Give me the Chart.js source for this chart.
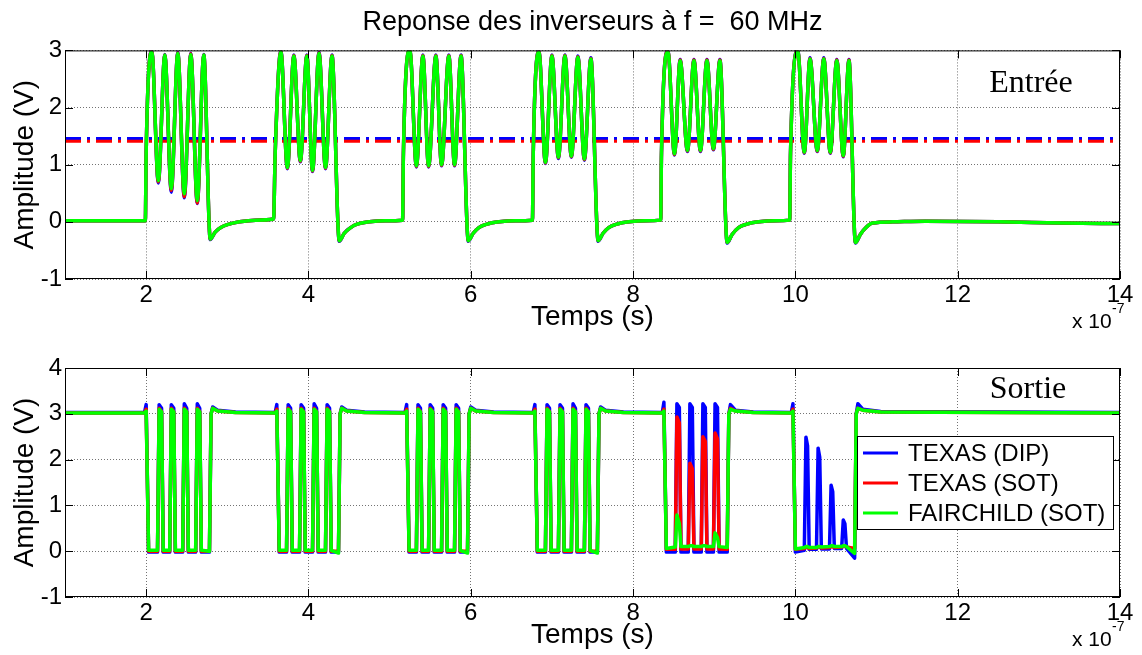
<!DOCTYPE html>
<html>
<head>
<meta charset="utf-8">
<script src="https://cdn.jsdelivr.net/npm/chart.js@4.4.0/dist/chart.umd.min.js"></script>
<style>
  html, body { margin: 0; padding: 0; background: #fff; }
  #wrap { position: relative; width: 1142px; height: 655px; }
  .panel { position: absolute; left: 0; width: 1142px; }
  #top { top: 0; height: 335px; }
  #bottom { top: 335px; height: 320px; }
</style>
</head>
<body>
<div id="wrap">
  <div class="panel" id="top"><canvas id="inputChart" width="1142" height="335"></canvas></div>
  <div class="panel" id="bottom"><canvas id="outputChart" width="1142" height="320"></canvas></div>
</div>
<script>
// time is in units of 1e-7 s (axis shows "x 10^-7")
const timeTicks = [2, 4, 6, 8, 10, 12, 14];
const inputTicks = [-1, 0, 1, 2, 3];
const outputTicks = [-1, 0, 1, 2, 3, 4];

const seriesNames = ["TEXAS (DIP)", "TEXAS (SOT)", "FAIRCHILD (SOT)"];
const seriesColors = ["#0000ff", "#ff0000", "#00ff00"];

// input (Entrée) waveforms, 6 bursts at 60 MHz
const inputTime = [
  1.00, 1.99,
  2.00, 2.07, 2.15, 2.23, 2.31, 2.39, 2.47, 2.55, 2.63, 2.71, 2.79, 2.85, 2.92, 3.00, 3.15, 3.35, 3.57,
  3.59, 3.66, 3.74, 3.82, 3.90, 3.98, 4.05, 4.13, 4.21, 4.29, 4.38, 4.44, 4.52, 4.60, 4.75, 4.95, 5.16,
  5.17, 5.25, 5.33, 5.41, 5.48, 5.57, 5.64, 5.73, 5.80, 5.88, 5.97, 6.03, 6.10, 6.20, 6.35, 6.55, 6.76,
  6.77, 6.84, 6.92, 7.00, 7.08, 7.16, 7.24, 7.32, 7.40, 7.48, 7.57, 7.63, 7.70, 7.80, 7.95, 8.15, 8.34,
  8.35, 8.43, 8.51, 8.58, 8.67, 8.75, 8.83, 8.91, 8.99, 9.07, 9.16, 9.22, 9.30, 9.40, 9.55, 9.75, 9.93,
  9.94, 10.03, 10.11, 10.18, 10.27, 10.35, 10.43, 10.51, 10.59, 10.66, 10.74, 10.80, 10.87, 10.95, 11.20, 11.60, 12.50, 13.30, 14.00,
];
const inputTexasDip = [
  0.02, 0.02,
  1.2, 2.99, 0.68, 2.93, 0.52, 2.97, 0.42, 2.95, 0.32, 2.93, -0.31, -0.18, -0.1, -0.05, 0.0, 0.03, 0.05,
  1.2, 3.0, 0.93, 2.92, 1.05, 2.92, 0.88, 2.97, 0.93, 2.92, -0.34, -0.2, -0.1, -0.04, 0.0, 0.02, 0.03,
  1.2, 3.0, 0.96, 2.92, 0.96, 2.92, 0.98, 2.92, 0.98, 2.92, -0.34, -0.2, -0.1, -0.04, 0.0, 0.02, 0.03,
  1.2, 2.99, 1.02, 2.92, 1.11, 2.92, 1.13, 2.9, 1.08, 2.87, -0.34, -0.2, -0.1, -0.04, 0.0, 0.02, 0.03,
  1.2, 2.99, 1.17, 2.84, 1.23, 2.84, 1.23, 2.84, 1.26, 2.84, -0.37, -0.22, -0.1, -0.04, 0.0, 0.02, 0.03,
  1.2, 3.0, 1.2, 2.87, 1.23, 2.87, 1.2, 2.84, 1.14, 2.84, -0.37, -0.22, -0.1, -0.02, 0.0, 0.01, 0.0, -0.02, -0.03,
];
const inputTexasSot = [
  0.02, 0.02,
  1.2, 2.98, 0.7, 2.92, 0.55, 2.96, 0.44, 2.94, 0.33, 2.92, -0.3, -0.18, -0.1, -0.05, 0.0, 0.03, 0.05,
  1.2, 2.99, 0.94, 2.91, 1.06, 2.91, 0.89, 2.96, 0.94, 2.91, -0.33, -0.2, -0.1, -0.04, 0.0, 0.02, 0.03,
  1.2, 3.0, 0.97, 2.91, 0.97, 2.91, 0.99, 2.91, 0.99, 2.91, -0.33, -0.2, -0.1, -0.04, 0.0, 0.02, 0.03,
  1.2, 2.98, 1.03, 2.91, 1.12, 2.91, 1.14, 2.89, 1.09, 2.86, -0.33, -0.2, -0.1, -0.04, 0.0, 0.02, 0.03,
  1.2, 2.98, 1.18, 2.83, 1.24, 2.83, 1.24, 2.83, 1.27, 2.83, -0.36, -0.22, -0.1, -0.04, 0.0, 0.02, 0.03,
  1.2, 2.99, 1.21, 2.86, 1.24, 2.86, 1.21, 2.83, 1.15, 2.83, -0.36, -0.22, -0.1, -0.02, 0.0, 0.01, 0.0, -0.02, -0.03,
];
const inputFairchild = [
  0.02, 0.02,
  1.2, 2.97, 0.72, 2.92, 0.58, 2.95, 0.49, 2.93, 0.37, 2.92, -0.3, -0.18, -0.1, -0.05, 0.0, 0.03, 0.05,
  1.2, 2.98, 0.95, 2.9, 1.07, 2.9, 0.9, 2.95, 0.95, 2.9, -0.33, -0.2, -0.1, -0.04, 0.0, 0.02, 0.03,
  1.2, 3.0, 0.98, 2.9, 0.98, 2.9, 1.0, 2.9, 1.0, 2.9, -0.33, -0.2, -0.1, -0.04, 0.0, 0.02, 0.03,
  1.2, 2.97, 1.04, 2.9, 1.13, 2.9, 1.15, 2.88, 1.1, 2.85, -0.33, -0.2, -0.1, -0.04, 0.0, 0.02, 0.03,
  1.2, 2.97, 1.19, 2.82, 1.25, 2.82, 1.25, 2.82, 1.28, 2.82, -0.36, -0.22, -0.1, -0.04, 0.0, 0.02, 0.03,
  1.2, 2.98, 1.22, 2.85, 1.25, 2.85, 1.22, 2.82, 1.16, 2.82, -0.36, -0.22, -0.1, -0.02, 0.0, 0.01, 0.0, -0.02, -0.03,
];

// switching thresholds (dash-dot lines)
const thresholdTime = [1, 14];
const thresholdDip = [1.46, 1.46];
const thresholdSot = [1.41, 1.41];

// output (Sortie) waveforms: fall, 4 pulses, rise for each burst
const outputTime = [
  1.00,
  1.98, 2.00, 2.03, 2.14, 2.16, 2.19, 2.21, 2.29, 2.31, 2.34, 2.36, 2.45, 2.47, 2.50, 2.52, 2.61, 2.63, 2.66, 2.68, 2.78, 2.80, 2.82, 2.88, 3.10,
  3.59, 3.61, 3.64, 3.73, 3.75, 3.78, 3.80, 3.89, 3.91, 3.94, 3.96, 4.05, 4.07, 4.10, 4.12, 4.21, 4.23, 4.26, 4.28, 4.37, 4.39, 4.41, 4.47, 4.69,
  5.19, 5.21, 5.24, 5.33, 5.35, 5.38, 5.40, 5.48, 5.50, 5.53, 5.55, 5.64, 5.66, 5.69, 5.71, 5.80, 5.82, 5.85, 5.87, 5.96, 5.98, 6.00, 6.06, 6.28,
  6.77, 6.79, 6.82, 6.92, 6.94, 6.97, 6.99, 7.08, 7.10, 7.13, 7.15, 7.24, 7.26, 7.29, 7.31, 7.40, 7.42, 7.45, 7.47, 7.56, 7.58, 7.60, 7.66, 7.88,
  8.36, 8.38, 8.41, 8.52, 8.54, 8.57, 8.59, 8.68, 8.70, 8.73, 8.75, 8.84, 8.86, 8.89, 8.91, 8.99, 9.01, 9.04, 9.06, 9.16, 9.18, 9.20, 9.26, 9.48,
  9.95, 9.97, 10.00, 10.11, 10.13, 10.15, 10.17, 10.26, 10.28, 10.30, 10.32, 10.42, 10.44, 10.46, 10.48, 10.57, 10.59, 10.61, 10.63, 10.73, 10.75, 10.77, 10.83, 11.05,
  14.00,
];
const outputTexasDip = [
  3.03,
  3.03, 3.2, -0.02, -0.02, 3.2, 3.12, -0.02, -0.02, 3.2, 3.12, -0.02, -0.02, 3.22, 3.12, -0.02, -0.02, 3.22, 3.12, -0.02, -0.02, 3.0, 3.15, 3.08, 3.04,
  3.03, 3.2, -0.02, -0.02, 3.2, 3.12, -0.02, -0.02, 3.2, 3.12, -0.02, -0.02, 3.22, 3.12, -0.02, -0.02, 3.2, 3.12, -0.02, -0.02, 3.0, 3.15, 3.08, 3.04,
  3.03, 3.2, -0.02, -0.02, 3.2, 3.12, -0.02, -0.02, 3.2, 3.12, -0.02, -0.02, 3.2, 3.12, -0.02, -0.02, 3.2, 3.12, -0.02, -0.02, 3.0, 3.15, 3.08, 3.04,
  3.03, 3.2, -0.02, -0.02, 3.2, 3.12, -0.02, -0.02, 3.2, 3.12, -0.02, -0.02, 3.22, 3.12, -0.02, -0.02, 3.2, 3.12, -0.02, -0.02, 3.0, 3.15, 3.08, 3.04,
  3.03, 3.25, -0.02, -0.02, 3.22, 3.14, -0.02, -0.02, 3.22, 3.14, -0.02, -0.02, 3.22, 3.14, -0.02, -0.02, 3.22, 3.14, -0.02, -0.02, 3.0, 3.2, 3.08, 3.04,
  3.03, 3.22, -0.02, 0.02, 2.49, 2.3, 0.04, 0.04, 2.25, 2.05, 0.05, 0.05, 1.44, 1.3, 0.06, 0.06, 0.68, 0.6, 0.06, -0.15, 3.0, 3.22, 3.1, 3.05,
  3.03,
];
const outputTexasSot = [
  3.02,
  3.02, 3.1, 0.0, 0.0, 3.12, 3.05, 0.0, 0.0, 3.12, 3.05, 0.0, 0.0, 3.12, 3.05, 0.0, 0.0, 3.12, 3.05, 0.0, 0.0, 3.0, 3.12, 3.06, 3.03,
  3.02, 3.1, 0.0, 0.0, 3.12, 3.05, 0.0, 0.0, 3.12, 3.05, 0.0, 0.0, 3.12, 3.05, 0.0, 0.0, 3.12, 3.05, 0.0, 0.0, 3.0, 3.12, 3.06, 3.03,
  3.02, 3.1, 0.0, 0.0, 3.12, 3.05, 0.0, 0.0, 3.12, 3.05, 0.0, 0.0, 3.12, 3.05, 0.0, 0.0, 3.12, 3.05, 0.0, 0.0, 3.0, 3.12, 3.06, 3.03,
  3.02, 3.1, 0.0, 0.0, 3.12, 3.05, 0.0, 0.0, 3.12, 3.05, 0.0, 0.0, 3.12, 3.05, 0.0, 0.0, 3.12, 3.05, 0.0, 0.0, 3.0, 3.12, 3.06, 3.03,
  3.02, 3.1, 0.04, 0.04, 2.93, 2.8, 0.05, 0.05, 1.92, 1.8, 0.05, 0.05, 2.5, 2.4, 0.05, 0.05, 2.58, 2.45, 0.05, 0.04, 3.0, 3.12, 3.06, 3.03,
  3.02, 3.1, 0.04, 0.06, 0.08, 0.08, 0.06, 0.07, 0.09, 0.09, 0.07, 0.08, 0.1, 0.1, 0.08, 0.09, 0.11, 0.11, 0.09, 0.06, 3.0, 3.12, 3.08, 3.04,
  3.02,
];
const outputFairchild = [
  3.02,
  3.02, 3.06, 0.02, 0.02, 3.1, 3.04, 0.02, 0.02, 3.1, 3.04, 0.02, 0.02, 3.1, 3.04, 0.02, 0.02, 3.1, 3.04, 0.02, 0.0, 3.0, 3.12, 3.06, 3.03,
  3.02, 3.06, 0.02, 0.02, 3.1, 3.04, 0.02, 0.02, 3.1, 3.04, 0.02, 0.02, 3.1, 3.04, 0.02, 0.02, 3.1, 3.04, 0.02, -0.04, 3.0, 3.12, 3.06, 3.03,
  3.02, 3.06, 0.02, 0.02, 3.1, 3.04, 0.02, 0.02, 3.1, 3.04, 0.02, 0.02, 3.1, 3.04, 0.02, 0.02, 3.1, 3.04, 0.02, -0.04, 3.0, 3.12, 3.06, 3.03,
  3.02, 3.06, 0.02, 0.02, 3.1, 3.04, 0.02, 0.02, 3.1, 3.04, 0.02, 0.02, 3.1, 3.04, 0.02, 0.02, 3.1, 3.04, 0.02, -0.04, 3.0, 3.12, 3.06, 3.03,
  3.02, 3.06, 0.06, 0.09, 0.79, 0.6, 0.1, 0.1, 0.12, 0.12, 0.1, 0.1, 0.12, 0.12, 0.1, 0.1, 0.4, 0.3, 0.1, 0.08, 3.0, 3.1, 3.06, 3.03,
  3.02, 3.06, 0.05, 0.08, 0.1, 0.1, 0.08, 0.08, 0.1, 0.1, 0.09, 0.1, 0.12, 0.12, 0.1, 0.1, 0.12, 0.12, 0.1, -0.05, 3.0, 3.12, 3.08, 3.04,
  3.02,
];

const SANS = "'Liberation Sans', Arial, sans-serif";
const SERIF = "'Liberation Serif', 'Times New Roman', serif";
const GRID = "rgba(0, 0, 0, 0.55)";

const toPoints = (xs, ys) => xs.map((x, i) => ({ x, y: ys[i] }));

const trace = (name, colorIndex, xs, ys, smooth) => ({
  label: name,
  data: toPoints(xs, ys),
  borderColor: seriesColors[colorIndex],
  borderWidth: 3.5,
  pointRadius: 0,
  borderJoinStyle: "round",
  cubicInterpolationMode: smooth ? "monotone" : "default",
  tension: 0,
  order: 2 - colorIndex,
});

const dashLine = (colorIndex, ys) => ({
  label: "",
  data: toPoints(thresholdTime, ys),
  borderColor: seriesColors[colorIndex],
  borderWidth: 3,
  borderDash: [16, 6, 3, 6],
  pointRadius: 0,
  order: 5 - colorIndex,
});

// MATLAB-like box, inward ticks, exponent label, panel note and legend
const matlabFrame = {
  id: "matlabFrame",
  afterDatasetsDraw(chart, args, opts) {
    const { ctx, chartArea: a, scales } = chart;
    ctx.save();
    ctx.strokeStyle = "#000";
    ctx.lineWidth = 1;
    ctx.strokeRect(a.left + 0.5, a.top + 0.5, a.right - a.left - 1, a.bottom - a.top - 1);

    ctx.beginPath();
    scales.x.ticks.forEach((t) => {
      const px = Math.round(scales.x.getPixelForValue(t.value)) + 0.5;
      ctx.moveTo(px, a.bottom);
      ctx.lineTo(px, a.bottom - 8);
      ctx.moveTo(px, a.top);
      ctx.lineTo(px, a.top + 8);
    });
    scales.y.ticks.forEach((t) => {
      const py = Math.round(scales.y.getPixelForValue(t.value)) + 0.5;
      ctx.moveTo(a.left, py);
      ctx.lineTo(a.left + 8, py);
      ctx.moveTo(a.right, py);
      ctx.lineTo(a.right - 8, py);
    });
    ctx.stroke();

    // "x 10^-7"
    ctx.fillStyle = "#000";
    ctx.textAlign = "left";
    ctx.textBaseline = "alphabetic";
    ctx.font = `21px ${SANS}`;
    ctx.fillText("x 10", a.right - 48, a.bottom + opts.expOffset);
    ctx.font = `14px ${SANS}`;
    ctx.fillText("-7", a.right - 8, a.bottom + opts.expOffset - 15);

    // panel note
    ctx.font = `32px ${SERIF}`;
    ctx.textAlign = "center";
    ctx.fillText(opts.note, opts.noteX, opts.noteY);

    if (opts.legend) {
      const L = opts.legend;
      ctx.fillStyle = "#fff";
      ctx.fillRect(L.x, L.y, L.w, L.h);
      ctx.strokeStyle = "#000";
      ctx.lineWidth = 1;
      ctx.strokeRect(L.x + 0.5, L.y + 0.5, L.w, L.h);
      ctx.font = `24px ${SANS}`;
      ctx.textAlign = "left";
      ctx.textBaseline = "middle";
      seriesNames.forEach((name, i) => {
        const y = L.y + L.first + i * L.step;
        ctx.strokeStyle = seriesColors[i];
        ctx.lineWidth = 3;
        ctx.beginPath();
        ctx.moveTo(L.x + 6, y);
        ctx.lineTo(L.x + 41, y);
        ctx.stroke();
        ctx.fillStyle = "#000";
        ctx.fillText(name, L.x + 51, y + 1);
      });
    }
    ctx.restore();
  },
};

const panelOptions = (cfg) => ({
  responsive: false,
  animation: false,
  events: [],
  layout: { padding: { left: 0, right: 22, top: cfg.padTop, bottom: 0 } },
  plugins: {
    legend: { display: false },
    tooltip: { enabled: false },
    title: cfg.title
      ? {
          display: true,
          text: cfg.title,
          fullSize: false,
          color: "#000",
          font: { family: SANS, size: 27, weight: "normal" },
          padding: { top: 6, bottom: 12 },
        }
      : { display: false },
    matlabFrame: cfg.frame,
  },
  scales: {
    x: {
      type: "linear",
      min: 1,
      max: 14,
      afterBuildTicks: (s) => {
        s.ticks = timeTicks.map((v) => ({ value: v }));
      },
      afterFit: (s) => {
        s.height = cfg.xHeight;
      },
      grid: { color: GRID, drawTicks: false },
      border: { display: false, dash: [1, 2] },
      ticks: { color: "#000", font: { family: SANS, size: 24 }, padding: 2, maxRotation: 0 },
      title: {
        display: true,
        text: "Temps (s)",
        color: "#000",
        font: { family: SANS, size: 28 },
        padding: { top: 0, bottom: cfg.xTitlePad },
      },
    },
    y: {
      min: cfg.yTicks[0],
      max: cfg.yTicks[cfg.yTicks.length - 1],
      afterBuildTicks: (s) => {
        s.ticks = cfg.yTicks.map((v) => ({ value: v }));
      },
      afterFit: (s) => {
        s.width = 65;
      },
      grid: { color: GRID, drawTicks: false },
      border: { display: false, dash: [1, 2] },
      ticks: { color: "#000", font: { family: SANS, size: 24 }, padding: 3 },
      title: {
        display: true,
        text: "Amplitude (V)",
        color: "#000",
        font: { family: SANS, size: 28 },
        padding: { top: 8, bottom: 0 },
      },
    },
  },
});

new Chart(document.getElementById("inputChart"), {
  type: "line",
  data: {
    datasets: [
      trace(seriesNames[0], 0, inputTime, inputTexasDip, true),
      trace(seriesNames[1], 1, inputTime, inputTexasSot, true),
      trace(seriesNames[2], 2, inputTime, inputFairchild, true),
      dashLine(0, thresholdDip),
      dashLine(1, thresholdSot),
    ],
  },
  options: panelOptions({
    title: "Reponse des inverseurs à f =  60 MHz",
    padTop: 0,
    xHeight: 56,
    xTitlePad: 1,
    yTicks: inputTicks,
    frame: { note: "Entrée", noteX: 1031, noteY: 92, expOffset: 49 },
  }),
  plugins: [matlabFrame],
});

new Chart(document.getElementById("outputChart"), {
  type: "line",
  data: {
    datasets: [
      trace(seriesNames[0], 0, outputTime, outputTexasDip, false),
      trace(seriesNames[1], 1, outputTime, outputTexasSot, false),
      trace(seriesNames[2], 2, outputTime, outputFairchild, false),
    ],
  },
  options: panelOptions({
    title: null,
    padTop: 33,
    xHeight: 58,
    xTitlePad: 3,
    yTicks: outputTicks,
    frame: {
      note: "Sortie",
      noteX: 1028,
      noteY: 63,
      expOffset: 49,
      legend: { x: 857, y: 101, w: 256, h: 93, first: 17, step: 30 },
    },
  }),
  plugins: [matlabFrame],
});
</script>
</body>
</html>
